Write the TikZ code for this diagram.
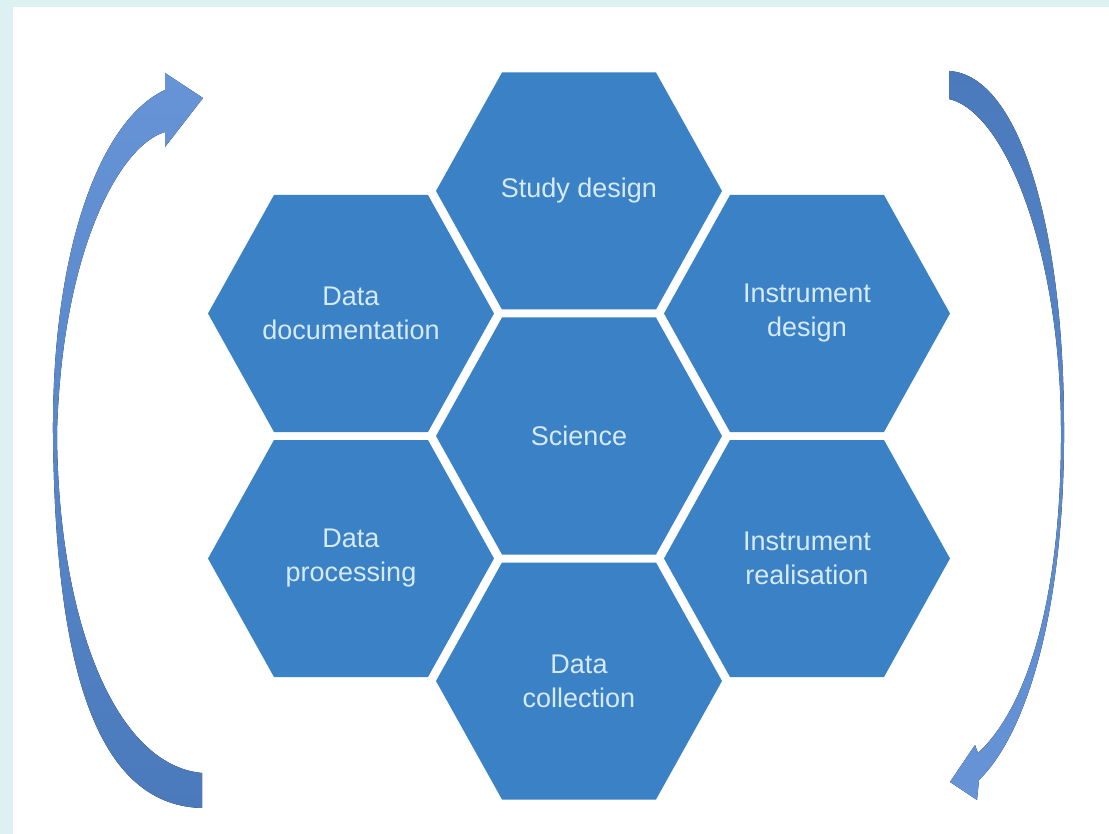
\documentclass[tikz,border=0pt]{standalone}
\usepackage{fontspec}
\setmainfont{Liberation Sans}
\usetikzlibrary{positioning,backgrounds}
\definecolor{framecyan}{RGB}{221,241,243}
\definecolor{hexblue}{RGB}{58,129,197}
\definecolor{hextext}{RGB}{214,234,250}
\definecolor{arrowlight}{RGB}{102,148,215}
\definecolor{arrowdark}{RGB}{74,122,188}

\begin{document}
\begin{tikzpicture}[x=1pt, y=-1pt, node distance = 245pt and 228pt, on grid,
    hexlabel/.style={text=hextext, align=center, inner sep=0pt, font=\fontsize{27}{34}\selectfont},
    hexshape/.style={insert path={++(-143,0) -- ++(66,118.5) -- ++(154,0) -- ++(66,-118.5) -- ++(-66,-118.5) -- ++(-154,0) -- cycle}}]
  \useasboundingbox (0,0) rectangle (1109,834);
  % honeycomb labels
  \node [hexlabel] (science) at (579,436) {Science};
  \node [hexlabel] (study) [above =of science] {Study design};
  \node [hexlabel] (collect) [below =of science] {Data\\collection};
  \node [hexlabel] (docu) [above left =122.5pt and 228pt of science] {Data\\documentation};
  \node [hexlabel] (instr) [above right =122.5pt and 228pt of science] {Instrument\\design};
  \node [hexlabel] (process) [below left =122.5pt and 228pt of science] {Data\\processing};
  \node [hexlabel] (realise) [below right =122.5pt and 228pt of science] {Instrument\\realisation};
  \begin{pgfonlayer}{background}
    \fill [framecyan] (0,0) rectangle (1109,834);
    \fill [white] (13,7) rectangle (1109,834);
    \foreach \c in {study,docu,instr,science,process,realise,collect}
      \fill [hexblue] (\c.center) [hexshape];
  \end{pgfonlayer}
  % curved arrows
  \fill [top color=arrowlight, bottom color=arrowdark] (202,808) .. controls (90,805) and (55,650) .. (53,433)
    .. controls (52,250) and (100,120) .. (165,90) -- (165,73) -- (203,98) -- (165,147) -- (165,132)
    .. controls (120,145) and (62,250) .. (57,433) .. controls (58,620) and (115,765) .. (202,773) -- cycle;
  \fill [top color=arrowdark, bottom color=arrowlight] (949,71) .. controls (1020,75) and (1064,230) .. (1064,427)
    .. controls (1065,600) and (1030,730) .. (979,780) -- (977,800) -- (950,782) -- (975,745) -- (978,753)
    .. controls (1030,705) and (1062,590) .. (1061,427) .. controls (1060,250) and (1005,112) .. (949,99) -- cycle;
\end{tikzpicture}
\end{document}
